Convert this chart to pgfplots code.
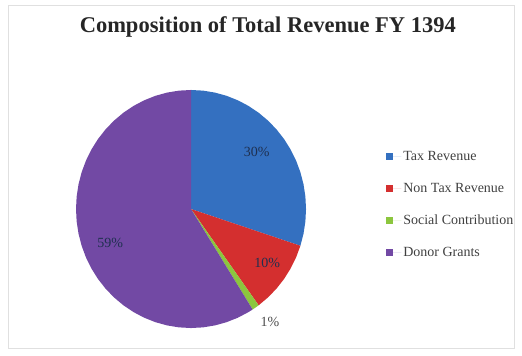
\documentclass[border=0pt]{standalone}
\usepackage{pgfplots}
\pgfplotsset{compat=1.18}
\usepackage{fontspec}
\setmainfont{Liberation Serif}

\definecolor{taxblue}{HTML}{3470C0}
\definecolor{nontaxred}{HTML}{D42F2F}
\definecolor{socgreen}{HTML}{8CC63E}
\definecolor{donorpurple}{HTML}{7249A4}
\definecolor{lbltext}{HTML}{1F3050}

\begin{document}
\begin{tikzpicture}
\begin{axis}[
	scale only axis,
	width=522pt, height=356pt,
	xmin=-1.661, xmax=2.878,
	ymin=-1.235, ymax=1.756,
	hide axis,
	clip=false,
	legend cell align=left,
	legend image code/.code={
		\fill[#1] (0pt,-3.5pt) rectangle (7pt,3.5pt);
		\path (0pt,0pt) -- (15.5pt,0pt);},
	legend style={
		at={(rel axis cs:0.733,0.586)}, anchor=north west,
		draw=none, fill=none,
		font=\fontsize{14}{16}\selectfont,
		text=black!75,
		row sep=17pt,
	},
]
% invisible frame keeps the page the size of the reference
\path (rel axis cs:0,0) rectangle (rel axis cs:1,1);
\draw[black!12] (rel axis cs:0.016,0.022) rectangle (rel axis cs:0.985,0.985);

% shares: Tax 30%, Non Tax 10%, Social 1%, Donor 59%  (angles = 3.6 deg per %)
% clockwise from 12 o'clock, (angle, radius) in polar data
\addplot[fill=taxblue, draw=none, data cs=polar] coordinates {
	(0,0) (90,1) (84,1) (78,1) (72,1) (66,1) (60,1) (54,1) (48,1) (42,1) (36,1)
	(30,1) (24,1) (18,1) (12,1) (6,1) (0,1) (-6,1) (-12,1) (-18,1)
} -- cycle;
\addlegendentry{Tax Revenue}

\addplot[fill=nontaxred, draw=none, data cs=polar] coordinates {
	(0,0) (-18,1) (-24,1) (-30,1) (-36,1) (-42,1) (-48,1) (-54,1)
} -- cycle;
\addlegendentry{Non Tax Revenue}

\addplot[fill=socgreen, draw=none, data cs=polar] coordinates {
	(0,0) (-54,1) (-55.8,1) (-57.6,1)
} -- cycle;
\addlegendentry{Social Contribution}

\addplot[fill=donorpurple, draw=none, data cs=polar] coordinates {
	(0,0) (-57.6,1) (-60,1) (-66,1) (-72,1) (-78,1) (-84,1) (-90,1) (-96,1)
	(-102,1) (-108,1) (-114,1) (-120,1) (-126,1) (-132,1) (-138,1) (-144,1)
	(-150,1) (-156,1) (-162,1) (-168,1) (-174,1) (-180,1) (-186,1) (-192,1)
	(-198,1) (-204,1) (-210,1) (-216,1) (-222,1) (-228,1) (-234,1) (-240,1)
	(-246,1) (-252,1) (-258,1) (-264,1) (-270,1)
} -- cycle;
\addlegendentry{Donor Grants}

% title
\node[font=\fontsize{22.5}{26}\selectfont\bfseries, text=black!85]
	at (rel axis cs:0.513,0.925) {Composition of Total Revenue FY 1394};

% data labels
\node[font=\fontsize{14}{16}\selectfont, text=lbltext] at (rel axis cs:0.492,0.573) {30\%};
\node[font=\fontsize{14}{16}\selectfont, text=lbltext] at (rel axis cs:0.512,0.261) {10\%};
\node[font=\fontsize{14}{16}\selectfont, text=lbltext] at (rel axis cs:0.211,0.317) {59\%};
\node[font=\fontsize{14}{16}\selectfont, text=black!70] at (rel axis cs:0.517,0.096) {1\%};
\end{axis}
\end{tikzpicture}
\end{document}
